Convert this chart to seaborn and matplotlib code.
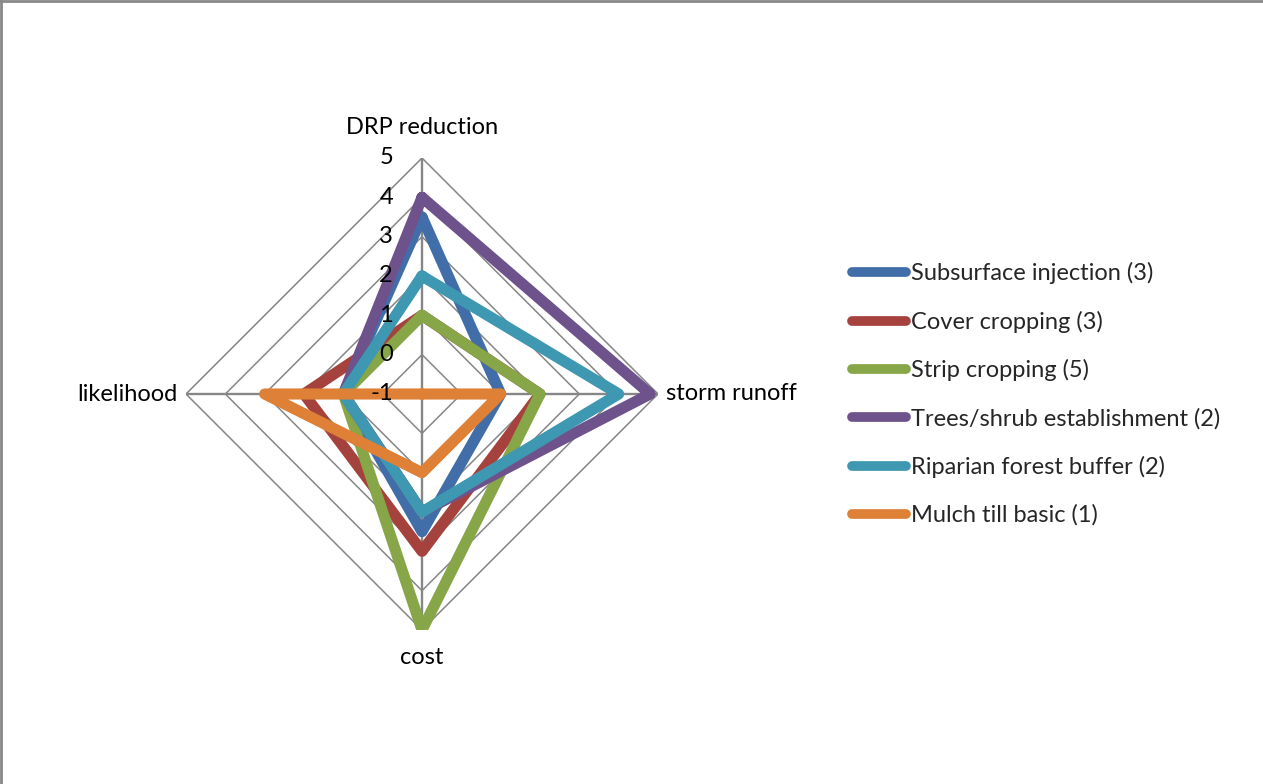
import numpy as np
import pandas as pd
import matplotlib
matplotlib.use("Agg")
import matplotlib.pyplot as plt
import seaborn as sns
from matplotlib.lines import Line2D

# ---- data ----
categories = ["DRP reduction", "storm runoff", "cost", "likelihood"]
series_names = [
    "Subsurface injection (3)",
    "Cover cropping (3)",
    "Strip cropping (5)",
    "Trees/shrub establishment (2)",
    "Riparian forest buffer (2)",
    "Mulch till basic (1)",
]
subsurface_injection = [3.5, 1, 2.5, 1]
cover_cropping = [1, 2, 3, 2]
strip_cropping = [1, 2, 5, 1]
trees_shrub = [4, 4.8, 2, 1]
riparian_buffer = [2, 4, 2, 1]
mulch_till = [-1, 1, 1, 3]
tick_values = [-1, 0, 1, 2, 3, 4, 5]

series_values = [subsurface_injection, cover_cropping, strip_cropping,
                 trees_shrub, riparian_buffer, mulch_till]
colors = ["#416EA8", "#A5423D", "#86A648", "#6E528C", "#3E98B2", "#DE8036"]

sns.set_style("white")
plt.rcParams["font.family"] = ["Lato", "DejaVu Sans"]

n = len(categories)
angles = [2 * np.pi * i / n for i in range(n)]
angles_closed = angles + [2 * np.pi]

rows = []
for name, vals in zip(series_names, series_values):
    for a, v in zip(angles_closed, vals + vals[:1]):
        rows.append({"theta": a, "value": v, "series": name})
df = pd.DataFrame(rows)

W, H = 1263, 784
fig = plt.figure(figsize=(W / 100, H / 100), dpi=100)
cx, cy, R = 422, 394, 236
ax = fig.add_axes([(cx - R) / W, (H - cy - R) / H, 2 * R / W, 2 * R / H],
                  projection="polar")
ax.set_theta_offset(np.pi / 2)
ax.set_theta_direction(-1)
ax.set_ylim(tick_values[0], tick_values[-1])
ax.grid(False)
ax.spines["polar"].set_visible(False)
ax.set_xticks([])
ax.set_yticks([])
ax.patch.set_alpha(0)

grid_color = "#868686"
for r in tick_values[1:]:
    ax.plot(angles_closed, [r] * len(angles_closed), color=grid_color,
            lw=1.1, zorder=1)
for a in angles:
    ax.plot([a, a], [tick_values[0], tick_values[-1]], color=grid_color,
            lw=1.7, zorder=1)

sns.lineplot(data=df, x="theta", y="value", hue="series", sort=False,
             estimator=None, palette=colors, hue_order=series_names,
             linewidth=8, ax=ax, zorder=3,
             solid_joinstyle="round", solid_capstyle="round")
if ax.get_legend() is not None:
    ax.get_legend().remove()
ax.set_xlabel("")
ax.set_ylabel("")

fs = 17
for t in tick_values:
    ax.annotate(str(t), xy=(0, t), xytext=(-29, 0), textcoords="offset pixels",
                ha="right", va="center", fontsize=fs, color="black",
                annotation_clip=False)

label_offsets = [((0, 30), "center", "center"),
                 ((8, 0), "left", "center"),
                 ((0, -28), "center", "center"),
                 ((-9, 0), "right", "center")]
for a, c, (off, ha, va) in zip(angles, categories, label_offsets):
    ax.annotate(c, xy=(a, tick_values[-1]), xytext=off,
                textcoords="offset pixels", ha=ha, va=va, fontsize=fs,
                color="black", annotation_clip=False)

leg_handles = [Line2D([0], [0], color=c, lw=7, solid_capstyle="round")
               for c in colors]
fig.legend(leg_handles, series_names, loc="center left",
           bbox_to_anchor=(852 / W, 1 - 394 / H), frameon=False,
           fontsize=fs, handlelength=2.3, handletextpad=0.2,
           labelspacing=1.12, borderpad=0, borderaxespad=0)

# chart area border (top and left edges visible)
fig.add_artist(Line2D([1 / W, 1 / W], [0, 1], color="#888888", lw=2,
                      transform=fig.transFigure))
fig.add_artist(Line2D([0, 1], [1 - 1 / H, 1 - 1 / H], color="#888888", lw=2,
                      transform=fig.transFigure))

fig.savefig("out.png", dpi=100, facecolor="white")
